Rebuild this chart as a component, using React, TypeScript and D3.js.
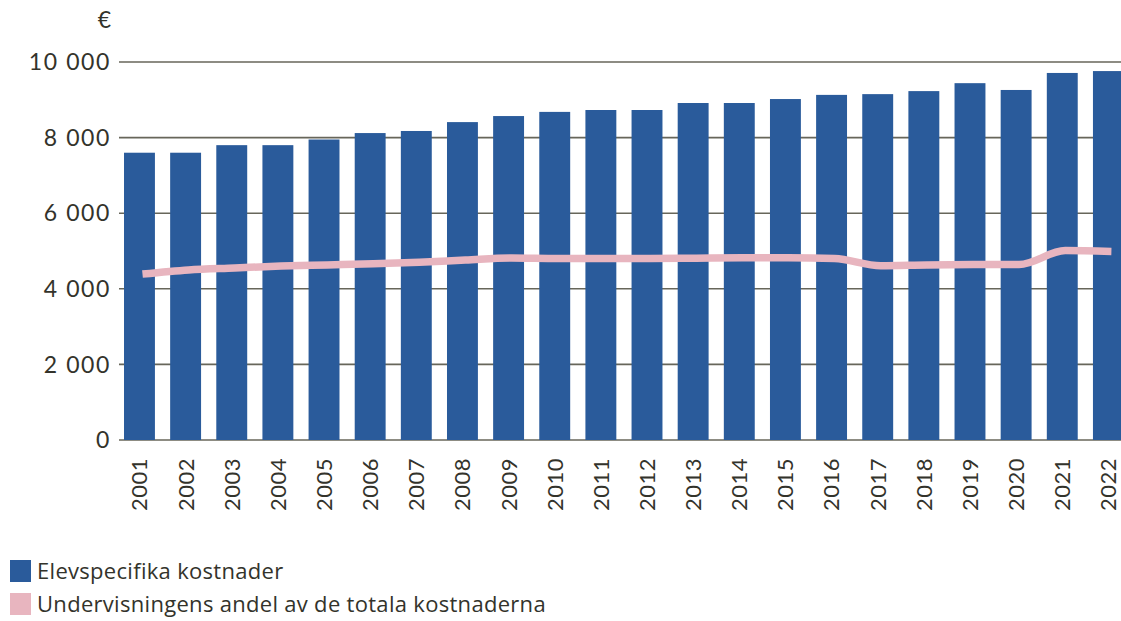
import React from "react";
import * as d3 from "d3";

const years = ["2001","2002","2003","2004","2005","2006","2007","2008","2009","2010","2011","2012","2013","2014","2015","2016","2017","2018","2019","2020","2021","2022"];
const costs = [7600,7600,7800,7800,7950,8120,8175,8410,8570,8680,8730,8730,8915,8915,9020,9130,9150,9230,9440,9260,9710,9760];
const teachingShare = [4390,4500,4550,4600,4630,4660,4700,4760,4815,4800,4800,4800,4810,4820,4820,4800,4610,4630,4640,4640,5010,4990];
const yTicks = [0,2000,4000,6000,8000,10000];
const legendLabels = ["Elevspecifika kostnader","Undervisningens andel av de totala kostnaderna"];

const W = 1121, H = 621;
const BAR = "#2a5b9b";
const PINK = "#e8b5bf";
const GRID = "#67665a";
const TEXT = "#33332b";

export default function App() {
  const x = d3.scaleBand<string>().domain(years).range([116.4, 116.4 + 22 * 46.14]).paddingInner(0.33).paddingOuter(0.165);
  const y = d3.scaleLinear().domain([0, 10000]).range([440, 62]);
  const fmt = (v: number) => (v >= 1000 ? `${Math.floor(v / 1000)} ${String(v % 1000).padStart(3, "0")}` : String(v));
  const line = d3.line<number>()
    .x((_, i) => (x(years[i]) as number) + x.bandwidth() / 2 + 3)
    .y((d) => y(d))
    .curve(d3.curveMonotoneX);
  return (
    <svg width={W} height={H} style={{ position: "absolute", left: 0, top: 0, display: "block" }}>
      <rect width={W} height={H} fill="#fff" />
      {yTicks.map((t) => (
        <g key={t}>
          <line x1={119} x2={W} y1={y(t)} y2={y(t)} stroke={GRID} strokeWidth={1.6} />
          <text x={111} y={y(t)} dy="0.36em" textAnchor="end" fontFamily="Lato" fontSize={23} letterSpacing={1.6} fill={TEXT}>{fmt(t)}</text>
        </g>
      ))}
      <text x={111} y={20} dy="0.36em" textAnchor="end" fontFamily="Lato" fontSize={23} fill={TEXT}>€</text>
      {years.map((yr, i) => (
        <rect key={yr} x={x(yr)} y={y(costs[i])} width={x.bandwidth()} height={y(0) - y(costs[i])} fill={BAR} />
      ))}
      <path d={line(teachingShare) || ""} fill="none" stroke={PINK} strokeWidth={7.5} />
      {years.map((yr) => {
        const cx = (x(yr) as number) + x.bandwidth() / 2;
        return (
          <text key={yr} transform={`translate(${cx},458) rotate(-90)`} textAnchor="end" dy="0.36em" fontFamily="Lato" fontSize={22} letterSpacing={0.5} fill={TEXT}>{yr}</text>
        );
      })}
      {legendLabels.map((lab, i) => (
        <g key={lab} transform={`translate(10,${560 + i * 33})`}>
          <rect width={21} height={22} fill={i === 0 ? BAR : PINK} />
          <text x={27} y={11} dy="0.36em" fontFamily="Open Sans" fontSize={22} letterSpacing={0.3} fill={TEXT}>{lab}</text>
        </g>
      ))}
    </svg>
  );
}
